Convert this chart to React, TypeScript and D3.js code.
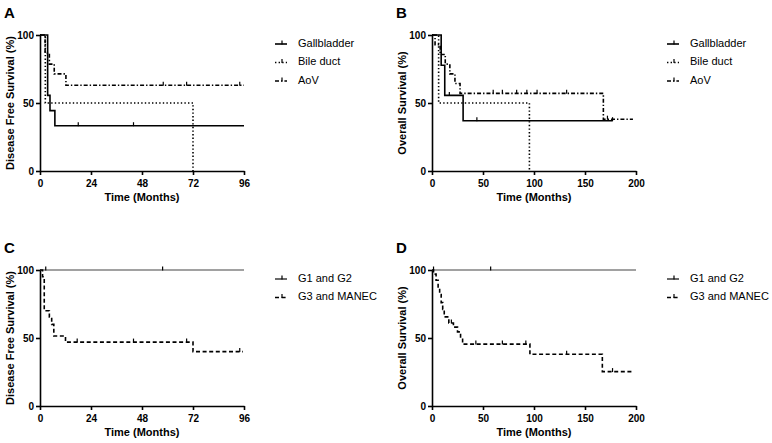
import { useEffect, useRef } from "react"
import * as d3 from "d3"

// ---- Panel A: disease free survival by tumour site ----
const aGallTimes = [0, 3.6, 4.7, 7]
const aGallValues = [100, 55.6, 44.4, 33.3]
const aGallCensored = [18, 44]
const aGallEnd = 96

const aBileTimes = [0, 2.5, 72]
const aBileValues = [100, 50, 0]
const aBileCensored: number[] = []
const aBileEnd = 72

const aAovTimes = [0, 2.4, 4.4, 6.7, 12.2]
const aAovValues = [100, 86.7, 78.6, 71.4, 63]
const aAovCensored = [58, 69, 94]
const aAovEnd = 96

// ---- Panel B: overall survival by tumour site ----
const bGallTimes = [0, 9, 12.5, 30.5]
const bGallValues = [100, 77.8, 55.6, 37]
const bGallCensored = [17, 44, 177]
const bGallEnd = 177

const bBileTimes = [0, 6.5, 95.5]
const bBileValues = [100, 50, 0]
const bBileCensored: number[] = []
const bBileEnd = 95.5

const bAovTimes = [0, 3, 8, 13, 17.5, 22.5, 27.5, 168]
const bAovValues = [100, 92.9, 85.7, 78.6, 71.4, 64.3, 57.1, 38.1]
const bAovCensored = [60, 69, 83, 93, 103, 132, 172]
const bAovEnd = 197

// ---- Panel C: disease free survival by grade ----
const cG12Times = [0]
const cG12Values = [100]
const cG12Censored = [2.7, 57.7]
const cG12End = 96

const cG3Times = [0, 1.2, 2, 4.4, 5.5, 6.5, 12, 72]
const cG3Values = [100, 95, 70, 65.5, 60, 51.5, 47, 40]
const cG3Censored = [17.5, 44, 69, 94]
const cG3End = 95.5

// ---- Panel D: overall survival by grade ----
const dG12Times = [0]
const dG12Values = [100]
const dG12Censored = [1.5, 57.5]
const dG12End = 200

const dG3Times = [0, 1.5, 4, 6, 7.5, 9, 10.5, 12, 16.5, 21, 25, 28, 30, 96, 167]
const dG3Values = [100, 97, 92.5, 87, 82, 76, 71, 65.5, 61, 58, 54.5, 50, 45.5, 38, 25.3]
const dG3Censored = [19, 43, 69, 92, 132, 177]
const dG3End = 197

const siteNames = ["Gallbladder", "Bile duct", "AoV"]
const gradeNames = ["G1 and G2", "G3 and MANEC"]
const monthTicks96 = [0, 24, 48, 72, 96]
const monthTicks200 = [0, 50, 100, 150, 200]
const survivalTicks = [0, 50, 100]

const FONT = "'Liberation Sans', Arial, sans-serif"

interface Series {
  name: string;
  times: number[];
  values: number[];
  censored: number[];
  end: number;
  dash: string | null;
  stroke: string;
  width: number;
}

interface PanelConfig {
  letter: string;
  x0: number;
  y0: number;
  xMax: number;
  xTicks: number[];
  yTitle: string;
  legendX: number;
  legendY: number;
  series: Series[];
}

const DOTTED = "1.4,2.2"
const DASHDOT = "4,2,1.4,2"
const DASHED = "4,2.6"

function drawPanel(root: d3.Selection<SVGSVGElement, unknown, null, undefined>, cfg: PanelConfig) {
  const plotW = 204
  const plotH = 136
  const g = root.append("g")

  const x = d3.scaleLinear().domain([0, cfg.xMax]).range([cfg.x0, cfg.x0 + plotW])
  const y = d3.scaleLinear().domain([0, 100]).range([cfg.y0, cfg.y0 - plotH])

  // --- Curves (Kaplan-Meier steps) ---
  const line = d3.line<[number, number]>()
    .x(d => x(d[0]))
    .y(d => y(d[1]))
    .curve(d3.curveStepAfter)

  cfg.series.forEach(s => {
    const pts: [number, number][] = s.times.map((t, i) => [t, s.values[i]])
    pts.push([s.end, s.values[s.values.length - 1]])
    g.append("path")
      .attr("d", line(pts))
      .attr("fill", "none")
      .attr("stroke", s.stroke)
      .attr("stroke-width", s.width)
      .attr("stroke-dasharray", s.dash)

    // censor ticks
    s.censored.forEach(t => {
      let v = s.values[0]
      s.times.forEach((tt, i) => { if (tt <= t) v = s.values[i] })
      g.append("line")
        .attr("x1", x(t)).attr("x2", x(t))
        .attr("y1", y(v) + 0.5).attr("y2", y(v) - 3.5)
        .attr("stroke", "#000")
        .attr("stroke-width", 1.2)
    })
  })

  // --- Axes ---
  const xAxis = g.append("g")
    .attr("transform", `translate(0,${cfg.y0})`)
    .call(d3.axisBottom(x).tickValues(cfg.xTicks).tickSize(4).tickSizeOuter(0).tickPadding(5))
  const yAxis = g.append("g")
    .attr("transform", `translate(${cfg.x0},0)`)
    .call(d3.axisLeft(y).tickValues(survivalTicks).tickSize(4).tickSizeOuter(0).tickPadding(2))

  ;[xAxis, yAxis].forEach(ax => {
    ax.selectAll("path, line").attr("stroke", "#000").attr("stroke-width", 1.6)
    ax.selectAll("text")
      .attr("fill", "#000")
      .style("font-family", FONT)
      .style("font-size", "10px")
      .style("font-weight", "bold")
  })

  // Axis titles
  g.append("text")
    .attr("x", cfg.x0 + plotW / 2)
    .attr("y", cfg.y0 + 30)
    .attr("text-anchor", "middle")
    .style("font-family", FONT)
    .style("font-size", "11px")
    .style("font-weight", "bold")
    .text("Time (Months)")

  g.append("text")
    .attr("transform", "rotate(-90)")
    .attr("x", -(cfg.y0 - plotH / 2))
    .attr("y", cfg.x0 - 26)
    .attr("text-anchor", "middle")
    .style("font-family", FONT)
    .style("font-size", "11px")
    .style("font-weight", "bold")
    .text(cfg.yTitle)

  // Panel letter
  g.append("text")
    .attr("x", cfg.x0 - 36)
    .attr("y", cfg.y0 - plotH - 17)
    .style("font-family", FONT)
    .style("font-size", "15px")
    .style("font-weight", "bold")
    .text(cfg.letter)

  // --- Legend ---
  cfg.series.forEach((s, i) => {
    const ly = cfg.legendY + i * 18.5
    g.append("line")
      .attr("x1", cfg.legendX).attr("x2", cfg.legendX + 12)
      .attr("y1", ly).attr("y2", ly)
      .attr("stroke", s.stroke)
      .attr("stroke-width", 1.6)
      .attr("stroke-dasharray", s.dash)
    g.append("line")
      .attr("x1", cfg.legendX + 7).attr("x2", cfg.legendX + 7)
      .attr("y1", ly + 0.5).attr("y2", ly - 3.5)
      .attr("stroke", "#000")
      .attr("stroke-width", 1.2)
    g.append("text")
      .attr("x", cfg.legendX + 23)
      .attr("y", ly)
      .attr("dominant-baseline", "middle")
      .style("font-family", FONT)
      .style("font-size", "11px")
      .text(s.name)
  })
}

export default function App() {
  const svgRef = useRef<SVGSVGElement>(null)

  useEffect(() => {
    if (!svgRef.current) return
    const svg = d3.select(svgRef.current)
    svg.selectAll("*").remove()

    const site = (t: number[][], c: number[][], e: number[], w: number): Series[] => [
      { name: siteNames[0], times: t[0], values: t[1], censored: c[0], end: e[0], dash: null, stroke: "#000", width: w },
      { name: siteNames[1], times: t[2], values: t[3], censored: c[1], end: e[1], dash: DOTTED, stroke: "#000", width: w },
      { name: siteNames[2], times: t[4], values: t[5], censored: c[2], end: e[2], dash: DASHDOT, stroke: "#000", width: w },
    ]

    drawPanel(svg, {
      letter: "A", x0: 40, y0: 171, xMax: 96, xTicks: monthTicks96,
      yTitle: "Disease Free Survival (%)", legendX: 275, legendY: 44,
      series: site(
        [aGallTimes, aGallValues, aBileTimes, aBileValues, aAovTimes, aAovValues],
        [aGallCensored, aBileCensored, aAovCensored],
        [aGallEnd, aBileEnd, aAovEnd], 1.6),
    })

    drawPanel(svg, {
      letter: "B", x0: 432, y0: 171, xMax: 200, xTicks: monthTicks200,
      yTitle: "Overall Survival (%)", legendX: 667, legendY: 44,
      series: site(
        [bGallTimes, bGallValues, bBileTimes, bBileValues, bAovTimes, bAovValues],
        [bGallCensored, bBileCensored, bAovCensored],
        [bGallEnd, bBileEnd, bAovEnd], 1.6),
    })

    drawPanel(svg, {
      letter: "C", x0: 40, y0: 406, xMax: 96, xTicks: monthTicks96,
      yTitle: "Disease Free Survival (%)", legendX: 275, legendY: 279,
      series: [
        { name: gradeNames[0], times: cG12Times, values: cG12Values, censored: cG12Censored, end: cG12End, dash: null, stroke: "#444", width: 1.2 },
        { name: gradeNames[1], times: cG3Times, values: cG3Values, censored: cG3Censored, end: cG3End, dash: DASHED, stroke: "#000", width: 1.6 },
      ],
    })

    drawPanel(svg, {
      letter: "D", x0: 432, y0: 406, xMax: 200, xTicks: monthTicks200,
      yTitle: "Overall Survival (%)", legendX: 667, legendY: 279,
      series: [
        { name: gradeNames[0], times: dG12Times, values: dG12Values, censored: dG12Censored, end: dG12End, dash: null, stroke: "#444", width: 1.2 },
        { name: gradeNames[1], times: dG3Times, values: dG3Values, censored: dG3Censored, end: dG3End, dash: DASHED, stroke: "#000", width: 1.6 },
      ],
    })
  }, [])

  return (
    <svg
      ref={svgRef}
      width={772}
      height={443}
      style={{ position: "absolute", left: 0, top: 0, background: "#fff" }}
    />
  )
}
